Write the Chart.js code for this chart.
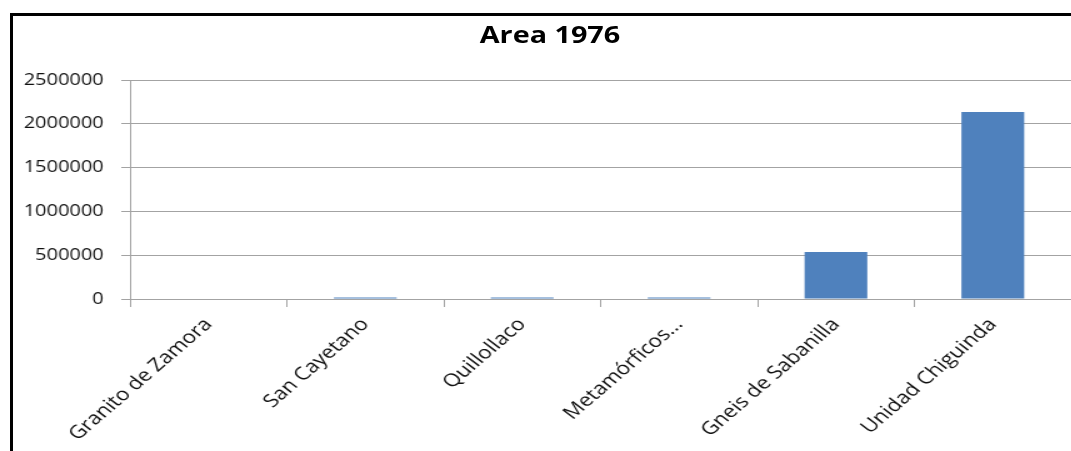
<!DOCTYPE html>
<html>
<head>
<meta charset="utf-8">
<script src="https://cdn.jsdelivr.net/npm/chart.js@4.4.1/dist/chart.umd.min.js"></script>
<style>
  html, body { margin: 0; padding: 0; background: #fff; width: 1071px; height: 451px; overflow: hidden; }
  #frame { position: absolute; left: 10px; top: 13px; width: 1200px; height: 600px;
           border-top: 3px solid #000; border-left: 3px solid #000; }
  #wrap { position: absolute; left: 0; top: 0; width: 857px; height: 451px;
          transform: scaleX(1.25); transform-origin: 0 0; }
  #title { position: absolute; left: 0; top: 23px; width: 880px; text-align: center;
           font: bold 23px/23px "Open Sans", sans-serif; color: #000; }
  canvas { position: absolute; left: 0; top: 0; }
</style>
</head>
<body>
<div id="frame"></div>
<div id="wrap">
  <canvas id="c" width="857" height="451"></canvas>
  <div id="title">Area 1976</div>
</div>
<script>
// Area per geological unit, 1976
const categories = ["Granito de Zamora", "San Cayetano", "Quillollaco", "Metamórficos...", "Gneis de Sabanilla", "Unidad Chiguinda"];
const areaValues = [0, 18000, 18000, 18000, 536000, 2135000];
const yTickValues = [0, 500000, 1000000, 1500000, 2000000, 2500000];

const gridColor = "#a3a3a3";
const yFont = { family: "'Open Sans', sans-serif", size: 16 };
const xFont = { family: "'Open Sans', sans-serif", size: 18 };

new Chart(document.getElementById("c"), {
  type: "bar",
  data: {
    labels: categories,
    datasets: [{
      label: "Area 1976",
      data: areaValues,
      backgroundColor: "#4f81bd",
      borderWidth: 0,
      categoryPercentage: 1.0,
      barPercentage: 0.4
    }]
  },
  options: {
    responsive: false,
    animation: false,
    devicePixelRatio: 1,
    layout: { padding: { top: 80, left: 0, right: 0, bottom: 0 } },
    plugins: { legend: { display: false }, title: { display: false }, tooltip: { enabled: false } },
    scales: {
      x: {
        grid: { display: true, drawOnChartArea: false, drawTicks: true, tickLength: 8, color: gridColor, offset: true },
        border: { display: true, color: gridColor },
        ticks: { minRotation: 47, maxRotation: 47, autoSkip: false, font: xFont, color: "#111", padding: 7 },
        afterFit: s => { s.height = 152; }
      },
      y: {
        min: yTickValues[0],
        max: yTickValues[yTickValues.length - 1],
        afterBuildTicks: s => { s.ticks = yTickValues.map(v => ({ value: v })); },
        grid: { color: gridColor, tickLength: 7, drawTicks: true },
        border: { display: true, color: gridColor },
        ticks: { font: yFont, color: "#111", padding: 14, callback: v => String(v) },
        afterFit: s => { s.width = 104; }
      }
    }
  }
});
</script>
</body>
</html>
